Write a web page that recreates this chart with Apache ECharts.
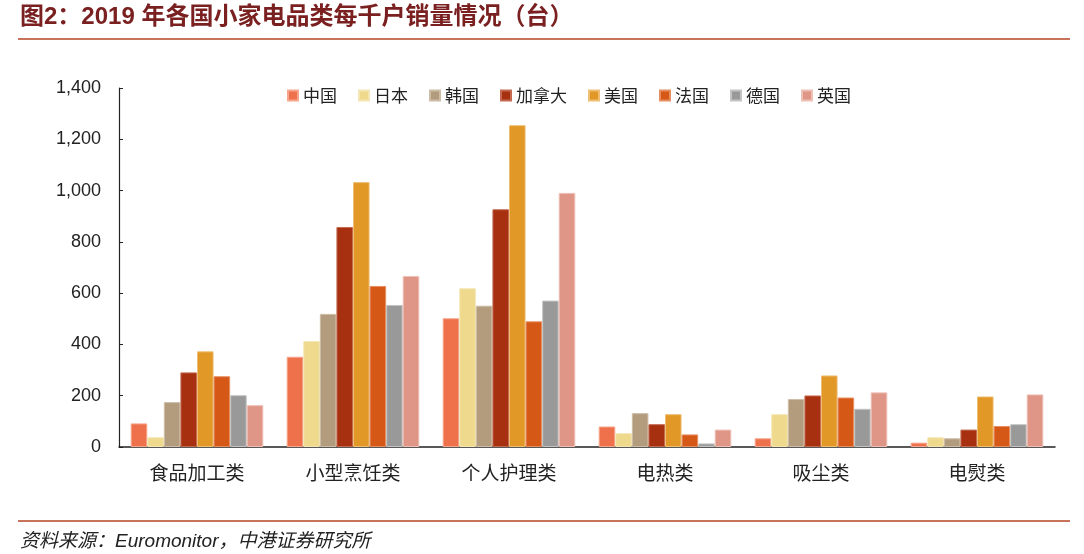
<!DOCTYPE html>
<html>
<head>
<meta charset="utf-8">
<script src="https://cdn.jsdelivr.net/npm/echarts@6/dist/echarts.min.js"></script>
<style>html,body{margin:0;padding:0;background:#fff;}#c{width:1084px;height:554px;}</style>
</head>
<body>
<div id="c"></div>
<script>
const categories = ['食品加工类', '小型烹饪类', '个人护理类', '电热类', '吸尘类', '电熨类'];
const countries = ['中国', '日本', '韩国', '加拿大', '美国', '法国', '德国', '英国'];
const china  = [92, 352, 502, 80, 34, 17];
const japan  = [38, 413, 619, 54, 128, 38];
const korea  = [175, 519, 551, 132, 187, 34];
const canada = [291, 858, 927, 89, 201, 68];
const usa    = [373, 1033, 1255, 128, 279, 197];
const france = [276, 628, 490, 49, 193, 82];
const germany= [202, 554, 571, 14, 149, 89];
const uk     = [163, 667, 991, 68, 213, 205];
const yTicks = [0, 200, 400, 600, 800, 1000, 1200, 1400];
const seriesValues = [china, japan, korea, canada, usa, france, germany, uk];
const colors = ['#EE714C', '#EED98C', '#B39C7D', '#A63010', '#E19827', '#D55817', '#999999', '#E09686'];
const borders = ['#F5A68C', '#F4E6B4', '#CDBCA6', '#C46A50', '#EEBE74', '#E78E60', '#C4C4C4', '#EDBFB5'];

const chart = echarts.init(document.getElementById('c'), null, {renderer: 'canvas'});
chart.setOption({
  animation: false,
  backgroundColor: '#fff',
  color: colors,
  grid: {left: 119, right: 29, top: 88, bottom: 107, containLabel: false},
  legend: {
    data: countries,
    left: 282, top: 82,
    icon: 'rect', itemWidth: 10, itemHeight: 10, itemGap: 21,
    textStyle: {fontSize: 17, color: '#222', fontFamily: 'Noto Sans CJK SC'}
  },
  xAxis: {
    type: 'category',
    data: categories,
    axisLine: {lineStyle: {color: '#222', width: 1.5}},
    axisTick: {inside: true, length: 5, lineStyle: {color: '#222'}},
    axisLabel: {fontSize: 19, color: '#222', margin: 16, fontFamily: 'Noto Sans CJK SC'}
  },
  yAxis: {
    type: 'value',
    min: yTicks[0], max: yTicks[yTicks.length - 1], interval: 200,
    axisLine: {show: true, lineStyle: {color: '#222', width: 1.2}},
    axisTick: {show: true, inside: true, length: 4, lineStyle: {color: '#222'}},
    splitLine: {show: false},
    axisLabel: {
      fontSize: 18, color: '#222', margin: 18, fontFamily: 'Liberation Sans, Arial',
      formatter: v => v.toLocaleString('en-US')
    }
  },
  series: countries.map((name, i) => ({
    name: name,
    type: 'bar',
    data: seriesValues[i],
    barGap: '0%',
    barCategoryGap: '15%',
    itemStyle: {color: colors[i], borderColor: borders[i], borderWidth: 1}
  })),
  graphic: [
    {type: 'text', left: 20, top: 5,
     style: {text: '图2：2019 年各国小家电品类每千户销量情况（台）', fontSize: 24, fontWeight: 'bold',
             fill: '#7A2020', fontFamily: 'Liberation Sans, Noto Sans CJK SC'}},
    {type: 'rect', shape: {x: 18, y: 38, width: 1052, height: 2}, style: {fill: '#C8745A'}},
    {type: 'rect', shape: {x: 18, y: 520, width: 1052, height: 2}, style: {fill: '#C8745A'}},
    {type: 'text', left: 20, top: 532,
     style: {text: '资料来源：Euromonitor，中港证券研究所', fontSize: 19, fontStyle: 'italic',
             fill: '#222', fontFamily: 'Liberation Sans, Noto Sans CJK SC'}}
  ]
});
</script>
</body>
</html>
